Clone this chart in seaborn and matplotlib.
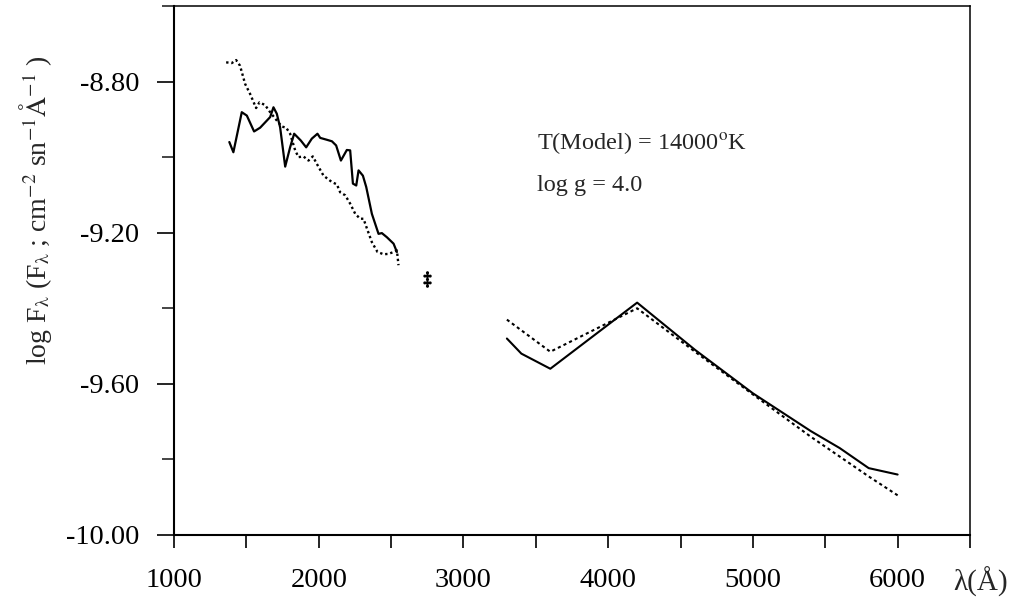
import numpy as np
import pandas as pd
import matplotlib
matplotlib.use("Agg")
import matplotlib.pyplot as plt
import seaborn as sns

# UV part (IUE), observed = solid, model = dotted
uv_obs_wl = [1382, 1410, 1468, 1503, 1553, 1595, 1664, 1687, 1710, 1733, 1768, 1802,
             1830, 1876, 1913, 1952, 1991, 2010, 2056, 2091, 2120, 2153, 2194, 2217,
             2236, 2259, 2275, 2305, 2328, 2367, 2413, 2436, 2471, 2517, 2540]
uv_obs_flux = [-8.960, -8.987, -8.881, -8.890, -8.932, -8.922, -8.894, -8.868, -8.885,
               -8.921, -9.025, -8.974, -8.938, -8.956, -8.974, -8.951, -8.938, -8.949,
               -8.954, -8.958, -8.969, -9.009, -8.981, -8.982, -9.070, -9.075, -9.035,
               -9.049, -9.079, -9.150, -9.203, -9.201, -9.212, -9.229, -9.251]

uv_mod_wl = [1360, 1399, 1429, 1456, 1491, 1526, 1567, 1590, 1629, 1664, 1710, 1745,
             1775, 1802, 1837, 1860, 1894, 1929, 1959, 1987, 2033, 2091, 2125, 2148,
             2183, 2217, 2252, 2286, 2309, 2333, 2367, 2406, 2448, 2482, 2517, 2540, 2551]
uv_mod_flux = [-8.749, -8.751, -8.743, -8.758, -8.806, -8.833, -8.870, -8.855, -8.862,
               -8.881, -8.903, -8.919, -8.922, -8.938, -8.982, -9.000, -8.998, -9.009,
               -8.998, -9.018, -9.049, -9.066, -9.072, -9.093, -9.101, -9.123, -9.150,
               -9.163, -9.163, -9.189, -9.225, -9.251, -9.257, -9.256, -9.251, -9.247,
               -9.286]

# optical part
opt_obs_wl = [3300, 3400, 3600, 4200, 4600, 5000, 5400, 5600, 5800, 6000]
opt_obs_flux = [-9.48, -9.52, -9.56, -9.385, -9.51, -9.625, -9.725, -9.77, -9.823, -9.84]

opt_mod_wl = [3300, 3600, 4200, 4600, 5000, 5400, 5800, 6000]
opt_mod_flux = [-9.43, -9.515, -9.40, -9.515, -9.628, -9.74, -9.845, -9.895]

# single point near 2750 A
pt_wl = [2750]
pt_flux = [-9.323]

sns.set_theme(style="ticks")
plt.rcParams['font.family'] = ['Liberation Serif', 'DejaVu Serif']
plt.rcParams['mathtext.fontset'] = 'stix'

fig = plt.figure(figsize=(10.22, 6.02), dpi=100)
ax = fig.add_axes([0.1703, 0.1113, 0.7788, 0.8787])

sns.lineplot(x=uv_obs_wl, y=uv_obs_flux, ax=ax, color='black', lw=1.6, sort=False)
sns.lineplot(x=uv_mod_wl, y=uv_mod_flux, ax=ax, color='black', lw=1.7,
             linestyle=(0, (1, 1.2)), sort=False)
sns.lineplot(x=opt_obs_wl, y=opt_obs_flux, ax=ax, color='black', lw=1.5, sort=False)
sns.lineplot(x=opt_mod_wl, y=opt_mod_flux, ax=ax, color='black', lw=1.5,
             linestyle=(0, (1.5, 1.5)), sort=False)
ax.scatter(pt_wl, pt_flux, marker=r'$\ddagger$', s=120, color='black', zorder=3)

ax.set_xlim(1000, 6500)
ax.set_ylim(-10.0, -8.6)
ax.set_xticks([1000, 2000, 3000, 4000, 5000, 6000])
ax.set_xticks(np.arange(1500, 6501, 1000), minor=True)
ax.set_yticks([-10.0, -9.6, -9.2, -8.8])
ax.set_yticks([-9.8, -9.4, -9.0, -8.6], minor=True)
ax.set_yticklabels(['-10.00', '-9.60', '-9.20', '-8.80'])

ax.tick_params(axis='x', which='both', direction='out', length=9, width=1.2,
               labelsize=20.5, pad=15, colors='black')
ax.tick_params(axis='y', which='major', direction='out', length=12, width=1.2,
               labelsize=20.5, pad=13, colors='black')
ax.tick_params(axis='y', which='minor', direction='out', length=9, width=1.2)

for side in ['left', 'bottom', 'top', 'right']:
    ax.spines[side].set_visible(True)
    ax.spines[side].set_color('black')
ax.spines['left'].set_linewidth(1.5)
ax.spines['bottom'].set_linewidth(1.5)
ax.spines['top'].set_linewidth(1.1)
ax.spines['right'].set_linewidth(1.1)

ax.set_ylabel(r'log F$_{\mathrm{λ}}$ (F$_{\mathrm{λ}}$ ; cm$^{-2}$ sn$^{-1}$$\mathrm{\AA}^{-1}$ )',
              fontsize=20)
ax.yaxis.set_label_coords(-0.151, 0.614)
ax.set_xlabel('')
ax.text(1.013, -0.088, 'λ(Å)', transform=ax.transAxes,
        ha='center', va='center', fontsize=21)

ax.text(0.456, 0.741, r'T(Model) = 14000$^{\mathrm{o}}$K', transform=ax.transAxes,
        ha='left', va='center', fontsize=17.5)
ax.text(0.456, 0.660, 'log g = 4.0', transform=ax.transAxes,
        ha='left', va='center', fontsize=17.5)

fig.savefig('out.png', dpi=100)
